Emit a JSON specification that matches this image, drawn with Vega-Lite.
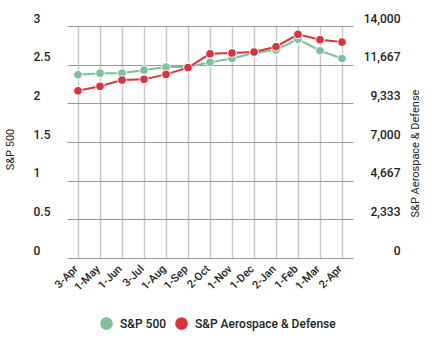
{
  "$schema": "https://vega.github.io/schema/vega-lite/v6.json",
  "width": 370,
  "height": 232,
  "autosize": {"type": "none"},
  "padding": {"left": 32, "top": 26, "right": 33, "bottom": 92},
  "background": "white",
  "config": {
    "font": "Roboto",
    "view": {"stroke": null},
    "axis": {"labelColor": "#222", "titleColor": "#222", "labelFont": "Roboto", "titleFont": "Roboto", "labelFontWeight": 500}
  },
  "data": {
    "values": [
      {"date": "3-Apr", "sp": 2.37, "ad": 10090},
      {"date": "1-May", "sp": 2.39, "ad": 10360},
      {"date": "1-Jun", "sp": 2.39, "ad": 10740},
      {"date": "3-Jul", "sp": 2.43, "ad": 10780},
      {"date": "1-Aug", "sp": 2.47, "ad": 11080},
      {"date": "1-Sep", "sp": 2.47, "ad": 11490},
      {"date": "2-Oct", "sp": 2.53, "ad": 12320},
      {"date": "1-Nov", "sp": 2.58, "ad": 12370},
      {"date": "1-Dec", "sp": 2.65, "ad": 12430},
      {"date": "2-Jan", "sp": 2.69, "ad": 12750},
      {"date": "1-Feb", "sp": 2.83, "ad": 13500},
      {"date": "1-Mar", "sp": 2.68, "ad": 13170},
      {"date": "2-Apr", "sp": 2.58, "ad": 13030}
    ]
  },
  "encoding": {
    "x": {
      "field": "date", "type": "ordinal", "sort": null,
      "scale": {"type": "point", "range": [35, 321]},
      "axis": {"title": null, "labelAngle": -45, "labelAlign": "right", "labelBaseline": "middle", "labelFontSize": 11, "labelPadding": 9, "labelOffset": -2, "domain": false, "ticks": false, "grid": true, "gridColor": "#c8c8c8", "gridWidth": 1.5}
    }
  },
  "layer": [
    {
      "mark": {"type": "line", "strokeWidth": 2, "point": {"filled": true, "size": 75, "stroke": "white", "strokeWidth": 1}},
      "encoding": {
        "y": {
          "field": "sp", "type": "quantitative",
          "scale": {"domain": [0, 3]},
          "axis": {"title": "S&P 500", "titleFontSize": 11, "titleFontWeight": "normal", "titleAngle": -90, "titleX": -17, "titleY": 123, "values": [0, 0.5, 1, 1.5, 2, 2.5, 3], "format": "~g", "labelAlign": "left", "labelBaseline": "alphabetic", "labelOffset": -4, "labelPadding": -1, "labelFontSize": 12, "ticks": false, "tickSize": 0, "domain": false, "gridColor": "#999", "gridWidth": 1}
        },
        "color": {"datum": "S&P 500", "type": "nominal", "scale": {"domain": ["S&P 500", "S&P Aerospace & Defense"], "range": ["#7fbf9c", "#d9343f"]},
          "legend": {"title": null, "orient": "none", "legendX": 68, "legendY": 291, "direction": "horizontal", "symbolType": "circle", "symbolSize": 160, "symbolStrokeWidth": 0, "labelFontSize": 12, "labelFontWeight": 500, "labelFont": "Roboto", "labelColor": "#222", "labelOffset": 7, "columnPadding": 8}}
      }
    },
    {
      "mark": {"type": "line", "strokeWidth": 2, "point": {"filled": true, "size": 75, "stroke": "white", "strokeWidth": 1}},
      "encoding": {
        "y": {
          "field": "ad", "type": "quantitative",
          "scale": {"domain": [0, 14000]},
          "axis": {"orient": "right", "title": "S&P Aerospace & Defense", "titleAngle": -90, "titleX": 18, "titleY": 127, "titleFontSize": 11, "titleFontWeight": "normal", "values": [0, 2333, 4667, 7000, 9333, 11667, 14000], "format": ",d", "labelAlign": "right", "labelBaseline": "alphabetic", "labelOffset": -4, "labelPadding": -2, "labelFontSize": 12, "ticks": false, "tickSize": 0, "domain": false, "grid": false}
        },
        "color": {"datum": "S&P Aerospace & Defense", "type": "nominal"}
      }
    }
  ],
  "resolve": {"scale": {"y": "independent"}}
}
